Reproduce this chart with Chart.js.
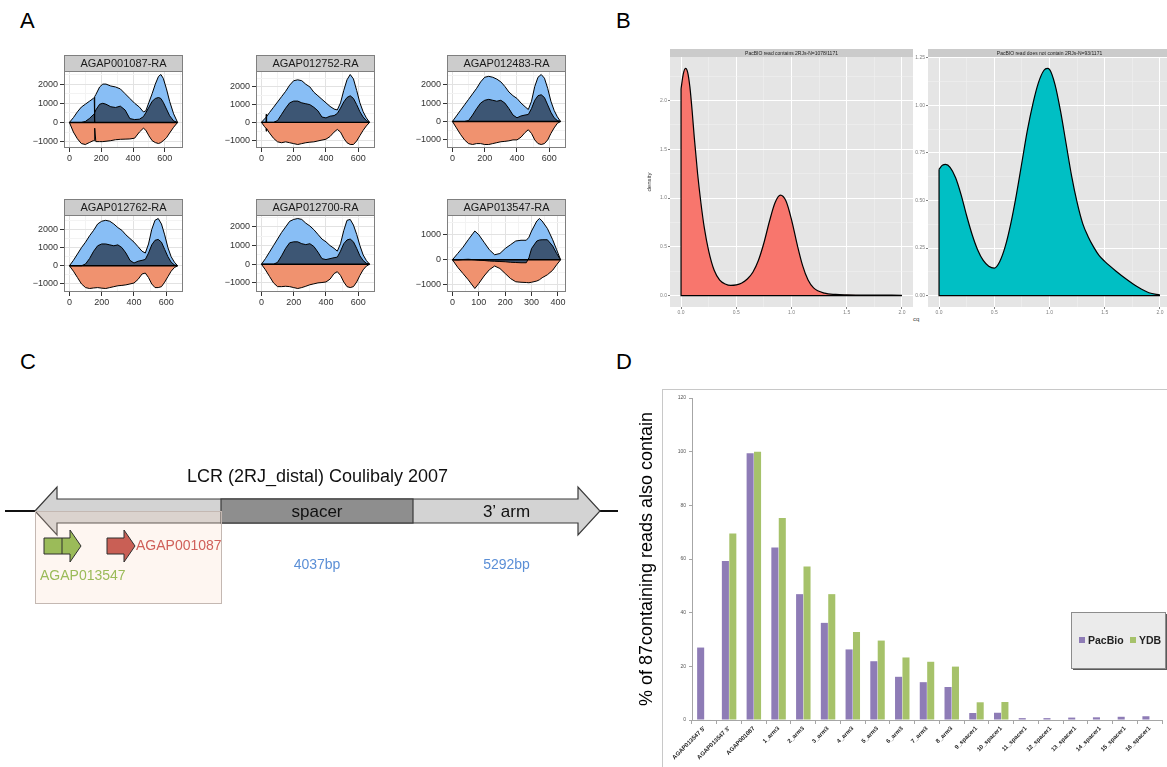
<!DOCTYPE html>
<html>
<head>
<meta charset="utf-8">
<script src="https://cdn.jsdelivr.net/npm/chart.js@4.4.1/dist/chart.umd.min.js"></script>
<style>
  html, body { margin: 0; padding: 0; background: #fff; overflow: hidden; }
  body { width: 1167px; height: 767px; position: relative; font-family: "Liberation Sans", Arial, sans-serif; }
  .letter { position: absolute; font-size: 22px; color: #000; }
  canvas { position: absolute; display: block; }
</style>
</head>
<body>
<div class="letter" style="left:20px;top:8px">A</div>
<div class="letter" style="left:616px;top:8px">B</div>
<div class="letter" style="left:20px;top:349px">C</div>
<div class="letter" style="left:616px;top:349px">D</div>
<div style="position:absolute;left:913px;top:316px;font-size:6px;color:#444">cq</div>
<div style="position:absolute;left:662px;top:389px;width:520px;height:400px;border-top:1px solid #C8C8C8;border-left:1px solid #C8C8C8"></div>

<script>
// ---------- A: coverage profiles (one row of values per track) ----------
const geneNames = ['AGAP001087-RA', 'AGAP012752-RA', 'AGAP012483-RA', 'AGAP012762-RA', 'AGAP012700-RA', 'AGAP013547-RA'];

const pos1 = [0, 25, 50, 75, 100, 125, 150, 156, 158, 160, 166, 190, 210, 230, 260, 290, 320, 350, 380, 410, 440, 465, 480, 500, 520, 540, 560, 575, 590, 610, 630, 655, 680];
const total1 = [0, 250, 550, 800, 950, 1100, 1250, 1300, 0, 1350, 1450, 1850, 2000, 2000, 1900, 1850, 1750, 1500, 1250, 1000, 800, 550, 600, 1050, 1500, 2000, 2400, 2500, 2300, 1750, 1100, 450, 0];
const subset1 = [0, 0, 0, 0, 50, 200, 400, 450, 0, 500, 650, 950, 1000, 950, 820, 780, 850, 650, 200, 150, 170, 300, 500, 800, 1100, 1250, 1300, 1250, 1050, 700, 350, 80, 0];
const neg1 = [0, -500, -850, -1100, -1150, -1050, -950, -950, -300, -300, -1000, -1000, -1000, -980, -950, -900, -880, -870, -860, -820, -500, -300, -400, -700, -950, -1050, -1100, -1050, -950, -800, -550, -250, 0];

const pos2 = [0, 20, 28, 30, 32, 50, 75, 100, 125, 150, 175, 200, 225, 250, 275, 300, 325, 350, 375, 400, 425, 450, 470, 490, 510, 530, 550, 570, 590, 610, 630, 650, 670];
const total2 = [0, 200, 280, 300, 320, 550, 850, 1150, 1450, 1750, 2100, 2350, 2400, 2350, 2150, 2000, 1700, 1500, 1300, 1100, 900, 750, 700, 1100, 1800, 2400, 2700, 2450, 1800, 1100, 600, 250, 0];
const subset2 = [0, 0, 0, 450, 0, 0, 0, 100, 450, 800, 1100, 1200, 1200, 1100, 1050, 1000, 850, 650, 300, 250, 350, 380, 500, 800, 1150, 1400, 1500, 1350, 1000, 600, 300, 100, 0];
const neg2 = [0, -250, -330, -500, -350, -600, -900, -1100, -1150, -1100, -1150, -1200, -1250, -1200, -1150, -1120, -1100, -1050, -1000, -950, -800, -550, -400, -550, -900, -1150, -1250, -1250, -1050, -750, -450, -200, 0];

const pos3 = [0, 25, 50, 75, 100, 125, 150, 175, 200, 225, 250, 275, 300, 325, 350, 375, 400, 425, 450, 470, 490, 510, 530, 550, 570, 590, 610, 630, 650, 670];
const total3 = [0, 300, 600, 900, 1200, 1500, 1800, 2150, 2400, 2450, 2400, 2300, 2150, 1900, 1600, 1400, 1250, 1000, 800, 650, 1100, 1900, 2400, 2550, 2350, 1800, 1100, 600, 250, 0];
const subset3 = [0, 0, 0, 0, 50, 350, 700, 1000, 1150, 1200, 1150, 1100, 1150, 1000, 700, 350, 200, 300, 350, 380, 700, 1150, 1400, 1450, 1300, 900, 500, 200, 50, 0];
const neg3 = [0, -350, -700, -1000, -1200, -1250, -1200, -1200, -1250, -1250, -1200, -1150, -1100, -1080, -1050, -1000, -1000, -850, -600, -450, -650, -1000, -1200, -1250, -1200, -1000, -650, -350, -100, 0];

const total4 = [0, 300, 650, 1000, 1300, 1650, 1950, 2300, 2450, 2500, 2450, 2300, 2100, 1950, 1700, 1500, 1300, 1050, 800, 700, 1200, 2000, 2500, 2600, 2300, 1700, 1000, 500, 200, 0];
const subset4 = [0, 0, 0, 0, 100, 400, 800, 1100, 1200, 1200, 1150, 1100, 1150, 1000, 700, 300, 150, 250, 300, 350, 700, 1150, 1400, 1450, 1300, 900, 500, 200, 50, 0];
const neg4 = [0, -300, -650, -1000, -1200, -1250, -1220, -1200, -1230, -1250, -1200, -1150, -1100, -1080, -1050, -1000, -950, -750, -450, -400, -650, -1000, -1200, -1200, -1150, -900, -600, -300, -100, 0];

const total5 = [0, 300, 650, 1000, 1350, 1700, 2000, 2300, 2400, 2450, 2400, 2200, 2050, 1850, 1600, 1350, 1200, 1000, 850, 700, 1100, 1800, 2350, 2400, 2100, 1600, 1000, 500, 200, 0];
const subset5 = [0, 0, 0, 0, 100, 450, 850, 1150, 1200, 1200, 1100, 1050, 1100, 950, 650, 300, 250, 300, 350, 380, 700, 1100, 1300, 1350, 1200, 850, 450, 200, 50, 0];
const neg5 = [0, -300, -650, -1000, -1200, -1200, -1180, -1200, -1250, -1300, -1250, -1180, -1100, -1050, -1000, -980, -950, -800, -500, -400, -600, -950, -1200, -1250, -1200, -950, -600, -300, -100, 0];

const pos6 = [0, 20, 40, 60, 85, 100, 120, 140, 160, 180, 200, 220, 240, 260, 280, 290, 300, 320, 330, 340, 360, 380, 395, 410];
const total6 = [0, 250, 500, 800, 1150, 1000, 700, 400, 200, 250, 450, 600, 750, 780, 780, 900, 1150, 1550, 1650, 1550, 1250, 800, 400, 0];
const subset6 = [0, -10, 10, 20, 0, -20, -30, -50, -60, -70, -80, -100, -110, -120, -120, 80, 450, 750, 790, 800, 800, 550, 250, 0];
const neg6 = [0, -300, -550, -800, -1150, -950, -650, -400, -250, -350, -550, -750, -880, -900, -910, -920, -900, -850, -800, -720, -600, -420, -200, 0];

// ---------- B: density of cq ----------
const densTitles = ['PacBIO read contains 2RJs-N=1078/1171', 'PacBIO read does not contain 2RJs-N=93/1171'];
const densX1 = [0, 0.02, 0.04, 0.06, 0.08, 0.1, 0.12, 0.15, 0.18, 0.21, 0.25, 0.3, 0.35, 0.4, 0.45, 0.5, 0.55, 0.6, 0.65, 0.7, 0.75, 0.8, 0.85, 0.9, 0.95, 1.0, 1.05, 1.1, 1.15, 1.2, 1.3, 1.4, 1.5, 1.75, 2.0];
const densY1 = [2.12, 2.27, 2.33, 2.29, 2.14, 1.9, 1.62, 1.25, 0.95, 0.7, 0.46, 0.26, 0.16, 0.12, 0.105, 0.11, 0.13, 0.17, 0.24, 0.36, 0.54, 0.76, 0.95, 1.03, 0.97, 0.78, 0.53, 0.31, 0.16, 0.08, 0.025, 0.012, 0.008, 0.005, 0.004];
const densX2 = [0, 0.03, 0.06, 0.1, 0.15, 0.2, 0.25, 0.3, 0.35, 0.4, 0.45, 0.5, 0.55, 0.6, 0.65, 0.7, 0.75, 0.8, 0.85, 0.9, 0.95, 0.98, 1.0, 1.05, 1.1, 1.15, 1.2, 1.25, 1.3, 1.35, 1.4, 1.45, 1.5, 1.6, 1.7, 1.8, 1.9, 2.0];
const densY2 = [0.665, 0.685, 0.69, 0.675, 0.62, 0.53, 0.42, 0.32, 0.24, 0.185, 0.155, 0.145, 0.18, 0.26, 0.38, 0.53, 0.7, 0.87, 1.01, 1.12, 1.185, 1.195, 1.19, 1.11, 0.97, 0.8, 0.63, 0.49, 0.38, 0.31, 0.255, 0.21, 0.18, 0.13, 0.085, 0.045, 0.015, 0.003];

// ---------- C: LCR schematic (schematic units, not to scale) ----------
const lcrTitle = 'LCR (2RJ_distal) Coulibaly 2007';
const lcrSegments = ['', 'spacer', '3\u2019 arm'];
const lcrSegmentSpan = [186, 192, 187];
const lcrSizes = ['', '4037bp', '5292bp'];
const lcrGenes = ['AGAP013547', 'AGAP001087'];
const lcrGeneStart = [9, 72];
const lcrGeneEnd = [46, 100];
const lcrGeneBreak = [27, null];

// ---------- D: % of 87 containing reads ----------
const readLabels = ["AGAP013547 5'", "AGAP013547 3'", 'AGAP001087', '1_arm3', '2_arm3', '3_arm3', '4_arm3', '5_arm3', '6_arm3', '7_arm3', '8_arm3', '9_spacer1', '10_spacer1', '11_spacer1', '12_spacer1', '13_spacer1', '14_spacer1', '15_spacer1', '16_spacer1'];
const pacbioPct = [27, 59.3, 99.4, 64.3, 46.9, 36.2, 26.3, 21.9, 16.1, 14.1, 12.3, 2.6, 2.7, 0.7, 0.7, 0.9, 1.0, 1.2, 1.4];
const ydbPct = [0.2, 69.5, 100, 75.3, 57.2, 46.9, 32.8, 29.6, 23.3, 21.7, 19.9, 6.6, 6.7, 0, 0, 0, 0, 0, 0];
const yTitleD = '% of 87containing reads also contain';

Chart.defaults.font.family = '"Liberation Sans", Arial, sans-serif';
Chart.defaults.animation = false;

function pts(xs, ys) {
    return xs.map((x, i) => ({ x: x, y: ys[i] }));
}

function expandRange(vals, frac) {
    const lo = Math.min(...vals), hi = Math.max(...vals);
    const pad = (hi - lo) * frac;
    return [lo - pad, hi + pad];
}

function isMajor(v, step) {
    return Math.abs(v / step - Math.round(v / step)) < 1e-6;
}

// ticks at every multiple of step inside the axis range
function stepTicks(scale, step) {
    const out = [];
    for (let k = Math.ceil(scale.min / step - 1e-9); k * step <= scale.max + 1e-9; k++) {
        out.push({ value: +(k * step).toFixed(6) });
    }
    scale.ticks = out;
}

function addCanvas(left, top, w, h) {
    const cv = document.createElement('canvas');
    cv.width = w;
    cv.height = h;
    cv.style.left = left + 'px';
    cv.style.top = top + 'px';
    document.body.appendChild(cv);
    return cv;
}

// strip header + panel background/border, ggplot style
const facetPlugin = {
    id: 'facet',
    beforeDraw(chart, args, o) {
        if (!o.panelBg) return;
        const a = chart.chartArea, ctx = chart.ctx;
        ctx.save();
        ctx.fillStyle = o.panelBg;
        ctx.fillRect(a.left, a.top, a.width, a.height);
        ctx.restore();
    },
    afterDraw(chart, args, o) {
        const a = chart.chartArea, ctx = chart.ctx;
        ctx.save();
        if (o.panelBorder) {
            ctx.strokeStyle = o.panelBorder;
            ctx.lineWidth = 1;
            ctx.strokeRect(a.left + 0.5, a.top + 0.5, a.width - 1, a.height - 1);
        }
        ctx.fillStyle = o.stripFill;
        ctx.fillRect(a.left, a.top - o.stripHeight, a.width, o.stripHeight);
        if (o.stripBorder) {
            ctx.strokeStyle = o.stripBorder;
            ctx.strokeRect(a.left + 0.5, a.top - o.stripHeight + 0.5, a.width - 1, o.stripHeight);
        }
        ctx.fillStyle = o.textColor;
        ctx.font = o.textFont;
        ctx.textAlign = 'center';
        ctx.textBaseline = 'middle';
        ctx.fillText(o.text, (a.left + a.right) / 2, a.top - o.stripHeight / 2 + 0.5);
        ctx.restore();
    }
};

// ---------- A ----------
const coverage = [
    { pos: pos1, total: total1, subset: subset1, neg: neg1 },
    { pos: pos2, total: total2, subset: subset2, neg: neg2 },
    { pos: pos3, total: total3, subset: subset3, neg: neg3 },
    { pos: pos3, total: total4, subset: subset4, neg: neg4 },
    { pos: pos3, total: total5, subset: subset5, neg: neg5 },
    { pos: pos6, total: total6, subset: subset6, neg: neg6 }
];

coverage.forEach(function (g, i) {
    const plotLeft = [64, 256, 447][i % 3];
    const stripTop = [55, 199][Math.floor(i / 3)];
    const yW = 50, stripH = 16, plotW = 119, plotH = 77, xH = 20, padR = 14;
    const cv = addCanvas(plotLeft - yW, stripTop, yW + plotW + padR, stripH + plotH + xH);
    const xr = expandRange(g.pos, 0.05);
    const yr = expandRange(g.total.concat(g.subset, g.neg), 0.05);
    const xMinor = g.pos[g.pos.length - 1] > 500 ? 100 : 50;
    const xMajor = xMinor * 2;
    const line = { borderColor: '#000', borderWidth: 1, pointRadius: 0, tension: 0, fill: 'origin' };
    new Chart(cv, {
        type: 'line',
        data: {
            datasets: [
                Object.assign({ data: pts(g.pos, g.total), backgroundColor: '#88BEF5', order: 4 }, line),
                Object.assign({ data: pts(g.pos, g.neg), backgroundColor: '#F0926F', order: 3 }, line),
                Object.assign({ data: pts(g.pos, g.subset), backgroundColor: '#3D5674', order: 2 }, line),
                { data: [{ x: g.pos[0], y: 0 }, { x: g.pos[g.pos.length - 1], y: 0 }], borderColor: '#000', borderWidth: 1.4, pointRadius: 0, fill: false, order: 1 }
            ]
        },
        options: {
            responsive: false,
            layout: { padding: { top: stripH, right: padR, left: 0, bottom: 0 } },
            plugins: {
                legend: { display: false },
                tooltip: { enabled: false },
                facet: { text: geneNames[i], stripHeight: stripH, stripFill: '#CCCCCC', stripBorder: '#7F7F7F', panelBorder: '#7F7F7F', textColor: '#1A1A1A', textFont: '11px "Liberation Sans", Arial, sans-serif' }
            },
            scales: {
                x: {
                    type: 'linear', min: xr[0], max: xr[1], bounds: 'data',
                    border: { display: false },
                    grid: {
                        color: c => (c.tick && isMajor(c.tick.value, xMajor)) ? '#E2E2E2' : '#F3F3F3',
                        tickColor: c => (c.tick && isMajor(c.tick.value, xMajor)) ? '#333' : 'rgba(0,0,0,0)',
                        tickLength: 4
                    },
                    ticks: {
                        autoSkip: false, maxRotation: 0,
                        padding: 1, color: '#333', font: { size: 9 },
                        callback: v => isMajor(v, xMajor) ? String(v) : ''
                    },
                    afterBuildTicks: s => stepTicks(s, xMinor),
                    afterFit: s => { s.height = xH; }
                },
                y: {
                    min: yr[0], max: yr[1], bounds: 'data',
                    border: { display: false },
                    grid: {
                        color: c => (c.tick && isMajor(c.tick.value, 1000)) ? '#E2E2E2' : '#F3F3F3',
                        tickColor: c => (c.tick && isMajor(c.tick.value, 1000)) ? '#333' : 'rgba(0,0,0,0)',
                        tickLength: 4
                    },
                    ticks: {
                        autoSkip: false,
                        padding: 2, color: '#333', font: { size: 9 },
                        callback: v => isMajor(v, 1000) ? String(v).replace('-', '\u2212') : ''
                    },
                    afterBuildTicks: s => stepTicks(s, 500),
                    afterFit: s => { s.width = yW; }
                }
            }
        },
        plugins: [facetPlugin]
    });
});

// ---------- B ----------
function densityChart(left, yW, xs, ys, color, title, yMinor, yDigits, yTitle) {
    const plotW = 243, stripH = 8, plotH = 250, xH = 23, padR = 2;
    const cv = addCanvas(left, 49, yW + plotW + padR, stripH + plotH + xH);
    const yr = expandRange(ys.concat([0]), 0.05);
    const last = xs.length - 1;
    const gridMaj = (c, step, a, b) => (c.tick && isMajor(c.tick.value, step)) ? a : b;
    new Chart(cv, {
        type: 'line',
        data: {
            datasets: [
                { data: pts(xs, ys), backgroundColor: color, borderColor: '#000', borderWidth: 1.2, pointRadius: 0, fill: 'origin', cubicInterpolationMode: 'monotone', order: 2 },
                { data: [{ x: xs[0], y: ys[0] }, { x: xs[0], y: 0 }, { x: xs[last], y: 0 }], borderColor: '#000', borderWidth: 1.2, pointRadius: 0, fill: false, order: 1 }
            ]
        },
        options: {
            responsive: false,
            layout: { padding: { top: stripH, right: padR, left: 0, bottom: 0 } },
            plugins: {
                legend: { display: false },
                tooltip: { enabled: false },
                facet: { text: title, stripHeight: stripH, stripFill: '#CBCBCB', panelBg: '#E5E5E5', textColor: '#222', textFont: '5px "Liberation Sans", Arial, sans-serif' }
            },
            scales: {
                x: {
                    type: 'linear', min: -0.1, max: 2.1, bounds: 'data',
                    border: { display: false },
                    grid: {
                        color: c => gridMaj(c, 0.5, '#FFFFFF', '#F2F2F2'),
                        lineWidth: c => gridMaj(c, 0.5, 1, 0.5),
                        tickColor: c => gridMaj(c, 0.5, '#7F7F7F', 'rgba(0,0,0,0)'),
                        tickLength: 2
                    },
                    ticks: {
                        autoSkip: false, maxRotation: 0,
                        padding: 1, color: '#7F7F7F', font: { size: 5 },
                        callback: v => isMajor(v, 0.5) ? v.toFixed(1) : ''
                    },
                    afterBuildTicks: s => stepTicks(s, 0.25),
                    afterFit: s => { s.height = xH; }
                },
                y: {
                    min: yr[0], max: yr[1], bounds: 'data',
                    border: { display: false },
                    title: { display: !!yTitle, text: yTitle || '', color: '#333', font: { size: 6 }, padding: { top: 16, bottom: 0 } },
                    grid: {
                        color: c => gridMaj(c, yMinor * 2, '#FFFFFF', '#F2F2F2'),
                        lineWidth: c => gridMaj(c, yMinor * 2, 1, 0.5),
                        tickColor: c => gridMaj(c, yMinor * 2, '#7F7F7F', 'rgba(0,0,0,0)'),
                        tickLength: 2
                    },
                    ticks: {
                        autoSkip: false,
                        padding: 1, color: '#7F7F7F', font: { size: 5 },
                        callback: v => isMajor(v, yMinor * 2) ? v.toFixed(yDigits) : ''
                    },
                    afterBuildTicks: s => stepTicks(s, yMinor),
                    afterFit: s => { s.width = yW; }
                }
            }
        },
        plugins: [facetPlugin]
    });
}

densityChart(630, 40, densX1, densY1, '#F8766D', densTitles[0], 0.25, 1, 'density');
densityChart(911, 17, densX2, densY2, '#00BFC4', densTitles[1], 0.125, 2, null);

// ---------- C ----------
const lcrPlugin = {
    id: 'lcr',
    afterDraw(chart) {
        const ctx = chart.ctx;
        const X = v => chart.scales.x.getPixelForValue(v);
        const Y = v => chart.scales.y.getPixelForValue(v);
        const bounds = [0];
        lcrSegmentSpan.forEach(l => bounds.push(bounds[bounds.length - 1] + l));
        const start = X(bounds[0]), end = X(bounds[bounds.length - 1]);
        const cy = Y(71), body = 12, head = 24, headLen = 22;
        const font = px => px + 'px "Liberation Sans", Arial, sans-serif';
        ctx.save();

        // genomic line
        ctx.strokeStyle = '#111';
        ctx.lineWidth = 2.2;
        ctx.beginPath();
        ctx.moveTo(start - 30, cy);
        ctx.lineTo(end + 18, cy);
        ctx.stroke();

        // double-headed LCR arrow
        ctx.beginPath();
        ctx.moveTo(start, cy);
        ctx.lineTo(start + headLen, cy - head);
        ctx.lineTo(start + headLen, cy - body);
        ctx.lineTo(end - headLen, cy - body);
        ctx.lineTo(end - headLen, cy - head);
        ctx.lineTo(end, cy);
        ctx.lineTo(end - headLen, cy + head);
        ctx.lineTo(end - headLen, cy + body);
        ctx.lineTo(start + headLen, cy + body);
        ctx.lineTo(start + headLen, cy + head);
        ctx.closePath();
        ctx.fillStyle = '#D3D3D3';
        ctx.fill();
        ctx.lineWidth = 1.2;
        ctx.strokeStyle = '#3A3A3A';
        ctx.stroke();

        // spacer block
        ctx.fillStyle = '#8E8E8E';
        ctx.fillRect(X(bounds[1]), cy - body, X(bounds[2]) - X(bounds[1]), body * 2);
        ctx.strokeRect(X(bounds[1]), cy - body, X(bounds[2]) - X(bounds[1]), body * 2);

        // shaded 5' region
        ctx.fillStyle = 'rgba(250, 212, 190, 0.22)';
        ctx.fillRect(start, cy, X(bounds[1]) - start, 92);
        ctx.strokeStyle = '#C4B8B2';
        ctx.lineWidth = 1;
        ctx.strokeRect(start + 0.5, cy + 0.5, X(bounds[1]) - start, 92);

        // segment labels + sizes
        ctx.textAlign = 'center';
        ctx.textBaseline = 'middle';
        lcrSegments.forEach(function (name, i) {
            const cx = (X(bounds[i]) + X(bounds[i + 1])) / 2;
            ctx.fillStyle = '#111';
            ctx.font = font(17);
            if (name) ctx.fillText(name, cx, cy + 1);
            ctx.fillStyle = '#5B8FD6';
            ctx.font = font(14);
            if (lcrSizes[i]) ctx.fillText(lcrSizes[i], cx, cy + 54);
        });

        // title
        ctx.fillStyle = '#111';
        ctx.font = font(18);
        ctx.fillText(lcrTitle, (start + end) / 2, cy - 34);

        // gene arrows
        const geneFill = ['#9BBB59', '#C95F55'];
        const gy = cy + 35, gb = 8, gh = 16, gl = 11;
        lcrGenes.forEach(function (name, i) {
            const s = X(lcrGeneStart[i]), e = X(lcrGeneEnd[i]);
            ctx.beginPath();
            ctx.moveTo(s, gy - gb);
            ctx.lineTo(e - gl, gy - gb);
            ctx.lineTo(e - gl, gy - gh);
            ctx.lineTo(e, gy);
            ctx.lineTo(e - gl, gy + gh);
            ctx.lineTo(e - gl, gy + gb);
            ctx.lineTo(s, gy + gb);
            ctx.closePath();
            ctx.fillStyle = geneFill[i];
            ctx.fill();
            ctx.strokeStyle = '#2F2F2F';
            ctx.lineWidth = 1;
            ctx.stroke();
            if (lcrGeneBreak[i] !== null) {
                ctx.beginPath();
                ctx.moveTo(X(lcrGeneBreak[i]), gy - gb);
                ctx.lineTo(X(lcrGeneBreak[i]), gy + gb);
                ctx.stroke();
            }
            ctx.font = font(14);
            ctx.textAlign = 'left';
            ctx.fillStyle = i === 0 ? '#9BBB59' : '#D0605A';
            if (i === 0) ctx.fillText(name, s - 4, gy + 30);
            else ctx.fillText(name, e + 1, gy);
        });
        ctx.restore();
    }
};

new Chart(addCanvas(0, 440, 640, 180), {
    type: 'line',
    data: { datasets: [] },
    options: {
        responsive: false,
        layout: { padding: 0 },
        plugins: { legend: { display: false }, tooltip: { enabled: false } },
        scales: {
            x: { type: 'linear', min: -35, max: 605, display: false },
            y: { type: 'linear', min: 0, max: 180, reverse: true, display: false }
        }
    },
    plugins: [lcrPlugin]
});

// ---------- D ----------
const boxLegend = {
    id: 'boxLegend',
    afterDraw(chart) {
        const ctx = chart.ctx, a = chart.chartArea;
        const bx = a.right - 91, by = a.top + 214, bw = 94, bh = 56;
        ctx.save();
        ctx.fillStyle = '#5A5A5A';
        ctx.fillRect(bx + 2, by + 2, bw, bh);
        ctx.fillStyle = '#EBEBEB';
        ctx.fillRect(bx, by, bw, bh);
        ctx.strokeStyle = '#8C8C8C';
        ctx.lineWidth = 1;
        ctx.strokeRect(bx + 0.5, by + 0.5, bw, bh);
        ctx.font = 'bold 10.5px "Liberation Sans", Arial, sans-serif';
        ctx.textBaseline = 'middle';
        ctx.textAlign = 'left';
        chart.data.datasets.forEach(function (ds, i) {
            const x = bx + 8 + i * 51, y = by + bh / 2;
            ctx.fillStyle = ds.backgroundColor;
            ctx.fillRect(x, y - 3, 6, 6);
            ctx.fillStyle = '#222';
            ctx.fillText(ds.label, x + 9, y + 1);
        });
        ctx.restore();
    }
};

new Chart(addCanvas(636, 389, 531, 378), {
    type: 'bar',
    data: {
        labels: readLabels,
        datasets: [
            { label: 'PacBio', data: pacbioPct, backgroundColor: '#8E7CB6' },
            { label: 'YDB', data: ydbPct, backgroundColor: '#A6C26A' }
        ]
    },
    options: {
        responsive: false,
        layout: { padding: { top: 9, right: 5, left: 0, bottom: 0 } },
        datasets: { bar: { categoryPercentage: 0.6, barPercentage: 0.95 } },
        plugins: { legend: { display: false }, tooltip: { enabled: false } },
        scales: {
            x: {
                border: { color: '#A6A6A6' },
                grid: { offset: true, drawOnChartArea: false, tickLength: 4, color: '#A6A6A6' },
                ticks: { autoSkip: false, minRotation: 45, maxRotation: 45, padding: 1, color: '#222', font: { size: 6, weight: 'bold' } },
                afterFit: s => { s.height = 47; }
            },
            y: {
                min: 0, max: 120,
                border: { color: '#A6A6A6' },
                grid: { drawOnChartArea: false, tickLength: 3, color: '#A6A6A6' },
                ticks: { stepSize: 20, padding: 3, color: '#555', font: { size: 5 } },
                title: { display: true, text: yTitleD, color: '#000', font: { size: 18 }, padding: { top: 0, bottom: 0 } },
                afterFit: s => { s.width = 56; }
            }
        }
    },
    plugins: [boxLegend]
});
</script>
</body>
</html>
